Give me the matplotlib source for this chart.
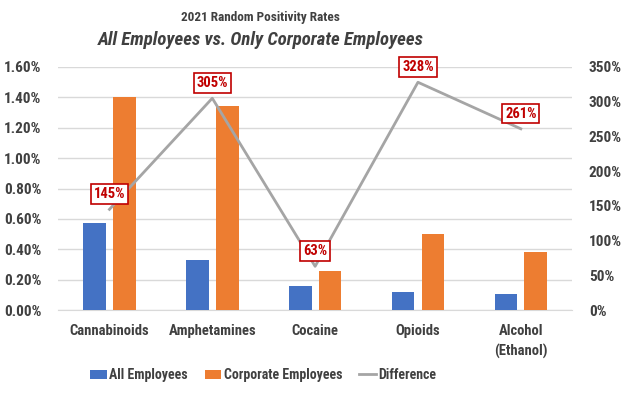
import numpy as np
import matplotlib.pyplot as plt
from matplotlib.ticker import FuncFormatter

categories = ['Cannabinoids', 'Amphetamines', 'Cocaine', 'Opioids', 'Alcohol\n(Ethanol)']
all_employees = [0.57, 0.33, 0.16, 0.117, 0.105]        # percent
corporate_employees = [1.40, 1.34, 0.26, 0.50, 0.38]    # percent
difference = [145, 305, 63, 328, 261]                   # percent
diff_labels = ['145%', '305%', '63%', '328%', '261%']

plt.rcParams['font.family'] = ['Roboto Condensed', 'DejaVu Sans']

blue = '#4472C4'
orange = '#ED7D31'
grey = '#A5A5A5'
txt = '#404040'
red = '#C00000'

fig = plt.figure(figsize=(6.24, 3.94), dpi=100)
ax = fig.add_axes([0.093, 0.213, 0.824, 0.617])
ax2 = ax.twinx()

x = np.arange(len(categories))
w = 0.22
ax.bar(x - 0.145, all_employees, w, color=blue, label='All Employees', zorder=3)
ax.bar(x + 0.145, corporate_employees, w, color=orange, label='Corporate Employees', zorder=3)

ax2.plot(x, difference, color=grey, lw=2, label='Difference')
for xi, yi, lab in zip(x, difference, diff_labels):
    ax2.annotate(lab, (xi, yi), xytext=(0, 11), textcoords='offset points',
                 ha='center', va='center', color=red, fontsize=10.5, fontweight='bold',
                 bbox=dict(boxstyle='square,pad=0.2', fc='white', ec=red, lw=1.2))

ax.set_xlim(-0.5, 4.5)
ax.set_ylim(0, 1.6)
ax.set_yticks(np.arange(0, 1.61, 0.2))
ax.yaxis.set_major_formatter(FuncFormatter(lambda v, p: f'{v:.2f}%'))
ax2.set_ylim(0, 350)
ax2.set_yticks(np.arange(0, 351, 50))
ax2.yaxis.set_major_formatter(FuncFormatter(lambda v, p: f'{v:.0f}%'))

ax.set_xticks(x)
ax.set_xticklabels(categories, linespacing=1.5)
ax.grid(axis='y', color='#D9D9D9', lw=1, zorder=0)
ax.set_axisbelow(True)

for a in (ax, ax2):
    for s in a.spines.values():
        s.set_visible(False)
    a.tick_params(length=0, colors=txt, labelsize=11)
    for t in a.get_xticklabels() + a.get_yticklabels():
        t.set_fontweight('bold')
ax.spines['bottom'].set_visible(True)
ax.spines['bottom'].set_color('#D9D9D9')
ax.tick_params(axis='x', pad=10, labelsize=10.5)
ax.tick_params(axis='y', pad=12)
ax2.tick_params(axis='y', pad=12)

fig.text(0.418, 0.955, '2021 Random Positivity Rates', ha='center', va='center',
         fontsize=9.5, fontweight='bold', color=txt)
fig.text(0.418, 0.898, 'All Employees vs. Only Corporate Employees', ha='center', va='center',
         fontsize=13.5, fontweight='bold', fontstyle='italic', color=txt)

h1, l1 = ax.get_legend_handles_labels()
h2, l2 = ax2.get_legend_handles_labels()
leg = fig.legend(h1 + h2, l1 + l2, loc='center', bbox_to_anchor=(0.422, 0.048), ncol=3,
                 frameon=False, fontsize=10, handlelength=1.2, handleheight=0.6,
                 columnspacing=1.2, handletextpad=0.2)
for t in leg.get_texts():
    t.set_color(txt)
    t.set_fontweight('bold')

plt.savefig('out.png', dpi=100)
